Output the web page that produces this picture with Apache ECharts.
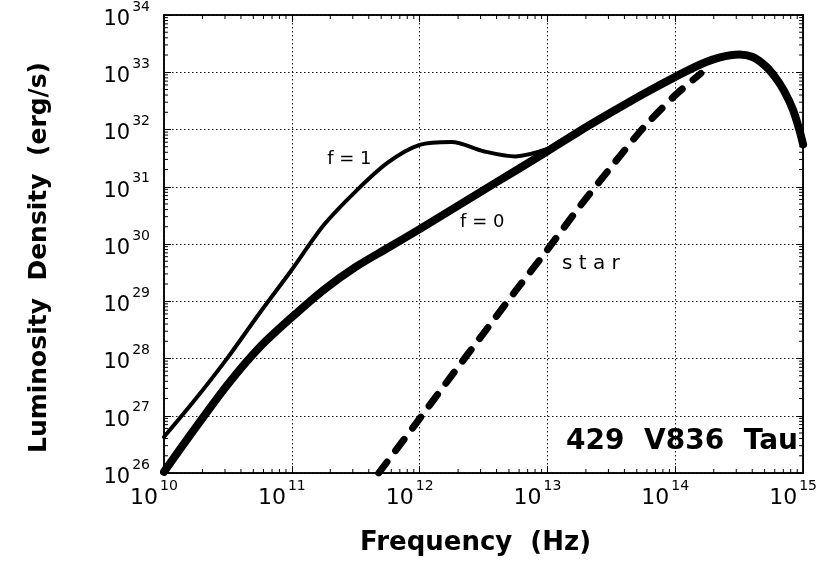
<!DOCTYPE html>
<html>
<head>
<meta charset="utf-8">
<script src="https://cdn.jsdelivr.net/npm/echarts@6/dist/echarts.min.js"></script>
<style>
  html, body { margin: 0; padding: 0; background: #fff; }
  #chart { width: 820px; height: 561px; }
</style>
</head>
<body>
<div id="chart"></div>
<script>
// Spectral energy distribution of V836 Tau: log10(frequency / Hz) and log10(luminosity density / erg s^-1)

// Disk model, f = 1
const f1LogNu = [10.0, 10.25, 10.5, 10.75, 11.0, 11.25, 11.5, 11.75, 12.0, 12.25, 12.5, 12.75, 13.0, 13.1];
const f1LogL  = [26.63, 27.30, 28.02, 28.80, 29.55, 30.33, 30.92, 31.42, 31.73, 31.78, 31.62, 31.53, 31.66, 31.80];

// Disk model, f = 0
const f0LogNu = [10.0, 10.25, 10.5, 10.75, 11.0, 11.25, 11.5, 11.75, 12.0, 12.25, 12.5, 12.75, 13.0, 13.25, 13.5, 13.75, 14.0, 14.2, 14.35, 14.5, 14.6, 14.7, 14.78, 14.85, 14.92, 14.97, 15.0];
const f0LogL  = [26.02, 26.80, 27.55, 28.20, 28.72, 29.20, 29.60, 29.93, 30.26, 30.60, 30.94, 31.28, 31.62, 31.97, 32.30, 32.62, 32.92, 33.14, 33.26, 33.31, 33.27, 33.12, 32.92, 32.68, 32.35, 32.00, 31.74];

// Stellar photosphere
const starLogNu = [11.68, 12.0, 12.25, 12.5, 12.75, 13.0, 13.25, 13.5, 13.75, 14.0, 14.2];
const starLogL  = [26.0, 26.95, 27.70, 28.44, 29.18, 29.90, 30.65, 31.35, 32.03, 32.60, 32.98];

// Axis ranges (decades)
const xDecades = [10, 15];
const yDecades = [26, 34];
const minorSteps = [2, 3, 4, 5, 6, 7, 8, 9];

// Text annotations placed in data space
const notes = [
  { text: 'f = 1', logNu: 11.45, logL: 31.48, size: 18, weight: 'normal', align: 'center' },
  { text: 'f = 0', logNu: 12.49, logL: 30.38, size: 18, weight: 'normal', align: 'center' },
  { text: 's t a r', logNu: 13.34, logL: 29.66, size: 20, weight: 'normal', align: 'center' },
  { text: '429  V836  Tau', logNu: 14.96, logL: 26.55, size: 28, weight: 'bold', align: 'right' }
];

const pow10 = e => Math.pow(10, e);
const toPairs = (xs, ys) => xs.map((x, i) => [pow10(x), pow10(ys[i])]);

const xMin = pow10(xDecades[0]), xMax = pow10(xDecades[1]);
const yMin = pow10(yDecades[0]), yMax = pow10(yDecades[1]);

// Minor tick positions (2..9 x 10^n) along both axes
const minorTickData = [];
for (let d = xDecades[0]; d < xDecades[1]; d++) {
  minorSteps.forEach(m => minorTickData.push([m * pow10(d), yMin, 0]));
}
for (let d = yDecades[0]; d < yDecades[1]; d++) {
  minorSteps.forEach(m => minorTickData.push([xMin, m * pow10(d), 1]));
}

const FONT = 'DejaVu Sans';
const expLabel = v => '{b|10}{s|' + Math.round(Math.log10(v)) + '}';
const labelRich = (big, small) => ({
  b: { fontSize: big, fontFamily: FONT, color: '#000', verticalAlign: 'bottom', lineHeight: 30 },
  s: { fontSize: small, fontFamily: FONT, color: '#000', verticalAlign: 'top', lineHeight: 30, padding: [0, 0, 0, 2] }
});
const gridLine = { show: true, lineStyle: { color: '#111', width: 1, type: [1.5, 2.5] } };
const edge = { show: true, lineStyle: { color: '#000', width: 1.5 } };
const majorTick = { show: true, inside: true, length: 7, lineStyle: { color: '#000', width: 1 } };

const chart = echarts.init(document.getElementById('chart'), null, { renderer: 'canvas' });

chart.setOption({
  animation: false,
  backgroundColor: '#fff',
  grid: { left: 164, right: 15, top: 15, bottom: 87, show: true, borderColor: '#000', borderWidth: 1.5, backgroundColor: 'transparent' },
  xAxis: [
    {
      type: 'log', logBase: 10, min: xMin, max: xMax, splitNumber: 5, position: 'bottom',
      axisLine: edge, axisTick: majorTick, splitLine: gridLine,
      axisLabel: { margin: 6, formatter: expLabel, rich: labelRich(22, 14), padding: [0, 20, 0, 0] },
      name: 'Frequency  (Hz)', nameLocation: 'middle', nameGap: 57,
      nameTextStyle: { fontFamily: FONT, fontWeight: 'bold', fontSize: 26, color: '#000', padding: [0, 16, 0, 0] }
    },
    {
      type: 'log', logBase: 10, min: xMin, max: xMax, splitNumber: 5, position: 'top',
      axisLine: edge, axisTick: majorTick, splitLine: { show: false }, axisLabel: { show: false }
    }
  ],
  yAxis: [
    {
      type: 'log', logBase: 10, min: yMin, max: yMax, splitNumber: 8, position: 'left',
      axisLine: edge, axisTick: majorTick, splitLine: gridLine,
      axisLabel: { margin: 14, formatter: expLabel, rich: labelRich(21, 14) },
      name: 'Luminosity  Density  (erg/s)', nameLocation: 'middle', nameGap: 112,
      nameTextStyle: { fontFamily: FONT, fontWeight: 'bold', fontSize: 25, color: '#000', padding: [0, 27, 0, 0] }
    },
    {
      type: 'log', logBase: 10, min: yMin, max: yMax, splitNumber: 8, position: 'right',
      axisLine: edge, axisTick: majorTick, splitLine: { show: false }, axisLabel: { show: false }
    }
  ],
  series: [
    {
      name: 'minor ticks', type: 'custom', silent: true, z: 1,
      data: minorTickData,
      encode: { x: 0, y: 1 },
      renderItem: function (params, api) {
        const style = { stroke: '#000', lineWidth: 1 };
        if (api.value(2) === 0) {
          const v = api.value(0);
          const b = api.coord([v, yMin]);
          const t = api.coord([v, yMax]);
          return { type: 'group', children: [
            { type: 'line', shape: { x1: b[0], y1: b[1], x2: b[0], y2: b[1] - 4 }, style: style },
            { type: 'line', shape: { x1: t[0], y1: t[1], x2: t[0], y2: t[1] + 4 }, style: style }
          ] };
        }
        const v = api.value(1);
        const l = api.coord([xMin, v]);
        const r = api.coord([xMax, v]);
        return { type: 'group', children: [
          { type: 'line', shape: { x1: l[0], y1: l[1], x2: l[0] + 4, y2: l[1] }, style: style },
          { type: 'line', shape: { x1: r[0], y1: r[1], x2: r[0] - 4, y2: r[1] }, style: style }
        ] };
      }
    },
    {
      name: 'star', type: 'line', data: toPairs(starLogNu, starLogL), smooth: 0.25,
      showSymbol: false, symbol: 'none', z: 3,
      lineStyle: { color: '#000', width: 7, type: [14, 14], cap: 'round' }
    },
    {
      name: 'f = 1', type: 'line', data: toPairs(f1LogNu, f1LogL), smooth: 0.3,
      showSymbol: false, symbol: 'none', z: 4,
      lineStyle: { color: '#000', width: 4, cap: 'round' }
    },
    {
      name: 'f = 0', type: 'line', data: toPairs(f0LogNu, f0LogL), smooth: 0.3,
      showSymbol: false, symbol: 'none', z: 5,
      lineStyle: { color: '#000', width: 8, cap: 'round' }
    },
    {
      name: 'notes', type: 'scatter', silent: true, z: 6, symbolSize: 1,
      itemStyle: { color: 'rgba(0,0,0,0)', opacity: 1 },
      data: notes.map(n => ({
        value: [pow10(n.logNu), pow10(n.logL)],
        label: {
          show: true, position: 'inside', formatter: n.text, align: n.align, verticalAlign: 'middle',
          fontFamily: FONT, fontSize: n.size, fontWeight: n.weight, color: '#000', opacity: 1
        }
      }))
    }
  ]
});
</script>
</body>
</html>
